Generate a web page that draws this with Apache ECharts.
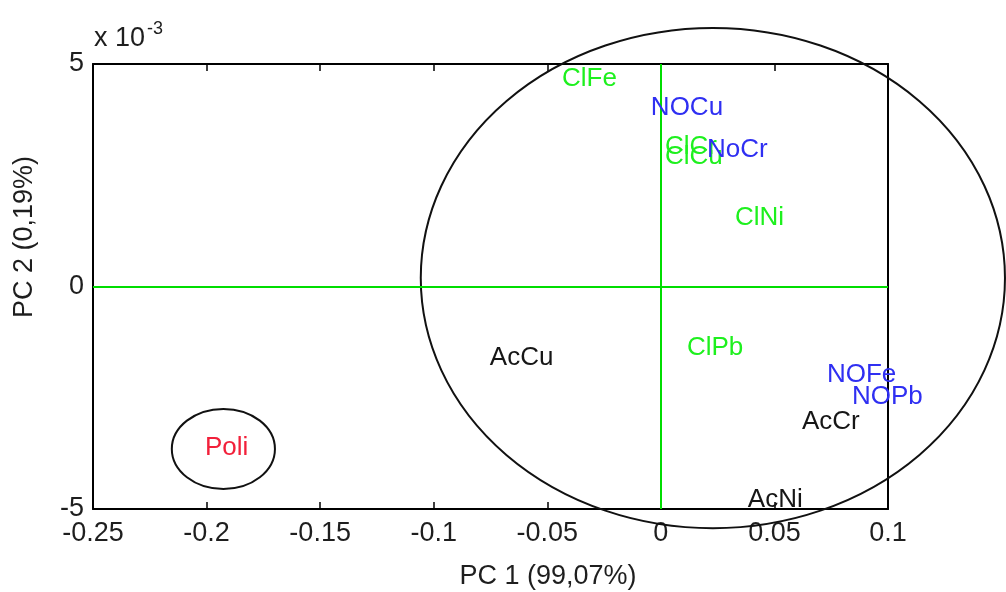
<!DOCTYPE html>
<html>
<head>
<meta charset="utf-8">
<script src="https://cdn.jsdelivr.net/npm/echarts@6/dist/echarts.min.js"></script>
<style>
  html, body { margin: 0; padding: 0; background: #fff; }
  #chart { width: 1006px; height: 592px; }
</style>
</head>
<body>
<div id="chart"></div>
<script>
// PCA scores: [PC1, PC2, label]
const clScores = [
  [-0.0435, 4.66e-3, 'ClFe'],
  [0.0018, 3.13e-3, 'ClCr'],
  [0.0018, 2.91e-3, 'ClCu'],
  [0.0326, 1.54e-3, 'ClNi'],
  [0.0115, -1.38e-3, 'ClPb']
];
const noScores = [
  [-0.0044, 4.01e-3, 'NOCu'],
  [0.0203, 3.07e-3, 'NoCr'],
  [0.0731, -1.99e-3, 'NOFe'],
  [0.0841, -2.48e-3, 'NOPb']
];
const acScores = [
  [-0.0753, -1.61e-3, 'AcCu'],
  [0.0621, -3.04e-3, 'AcCr'],
  [0.0383, -4.80e-3, 'AcNi']
];
const poliScores = [
  [-0.2007, -3.63e-3, 'Poli']
];

// Group ellipses: [centre PC1, centre PC2, radius PC1, radius PC2]
const groupEllipses = [
  [0.0229, 0.19e-3, 0.1286, 5.62e-3],
  [-0.1926, -3.65e-3, 0.0227, 0.899e-3]
];

// Axis ranges and ticks
const xMin = -0.25, xMax = 0.1, xStep = 0.05;
const yMin = -5e-3, yMax = 5e-3, yStep = 5e-3;

const FONT = '"Liberation Sans", Arial, sans-serif';
const AXIS_TEXT = '#1e1e1e';
const AXIS_SIZE = 27;

function labelSeries(name, data, color) {
  return {
    name: name,
    type: 'scatter',
    data: data,
    symbolSize: 0,
    silent: true,
    z: 5,
    itemStyle: { opacity: 1 },
    label: {
      show: true,
      position: 'right',
      distance: 0,
      opacity: 1,
      formatter: p => p.data[2],
      color: color,
      fontFamily: FONT,
      fontSize: 26
    }
  };
}

const chart = echarts.init(document.getElementById('chart'), null, { renderer: 'canvas' });

const axisLine = { show: true, onZero: false, lineStyle: { color: '#000', width: 2 } };
const axisTick = { show: true, inside: true, length: 7, lineStyle: { color: '#000', width: 1.5 } };

chart.setOption({
  animation: false,
  backgroundColor: '#fff',
  grid: { left: 93, right: 118, top: 64, bottom: 83, containLabel: false },
  xAxis: [
    {
      type: 'value', position: 'bottom', min: xMin, max: xMax, interval: xStep,
      axisLine: axisLine, axisTick: axisTick, splitLine: { show: false },
      axisLabel: { color: AXIS_TEXT, fontFamily: FONT, fontSize: AXIS_SIZE, margin: 11 }
    },
    {
      type: 'value', position: 'top', min: xMin, max: xMax, interval: xStep,
      axisLine: axisLine, axisTick: axisTick, splitLine: { show: false },
      axisLabel: { show: false }
    }
  ],
  yAxis: [
    {
      type: 'value', position: 'left', min: yMin, max: yMax, interval: yStep,
      axisLine: axisLine, axisTick: axisTick, splitLine: { show: false },
      axisLabel: {
        color: AXIS_TEXT, fontFamily: FONT, fontSize: AXIS_SIZE, margin: 9,
        formatter: v => String(Math.round(v * 1000))
      }
    },
    {
      type: 'value', position: 'right', min: yMin, max: yMax, interval: yStep,
      axisLine: axisLine, axisTick: axisTick, splitLine: { show: false },
      axisLabel: { show: false }
    }
  ],
  series: [
    {
      name: 'groups',
      type: 'custom',
      data: groupEllipses,
      encode: { x: 0, y: 1 },
      clip: false,
      silent: true,
      z: 3,
      renderItem: function (params, api) {
        const c = api.coord([api.value(0), api.value(1)]);
        const s = api.size([api.value(2), api.value(3)]);
        const rx = s[0], ry = s[1];
        const d = 'M' + (c[0] - rx) + ' ' + c[1] +
          ' A' + rx + ' ' + ry + ' 0 1 0 ' + (c[0] + rx) + ' ' + c[1] +
          ' A' + rx + ' ' + ry + ' 0 1 0 ' + (c[0] - rx) + ' ' + c[1] + ' Z';
        return {
          type: 'path',
          shape: { pathData: d },
          style: { fill: 'none', stroke: '#111', lineWidth: 2 }
        };
      }
    },
    Object.assign(labelSeries('Cl', clScores, '#1ef01e'), {
      markLine: {
        silent: true,
        symbol: 'none',
        label: { show: false },
        lineStyle: { color: '#00dd00', type: 'solid', width: 2, opacity: 1 },
        data: [{ xAxis: 0 }, { yAxis: 0 }]
      }
    }),
    labelSeries('NO', noScores, '#2f2ff2'),
    labelSeries('Ac', acScores, '#161616'),
    labelSeries('Poli', poliScores, '#f2203a')
  ],
  graphic: [
    {
      type: 'text', left: 94, top: 20,
      style: {
        text: '{b|x 10}{s|-3}',
        rich: {
          b: { fontFamily: FONT, fontSize: AXIS_SIZE, fill: AXIS_TEXT, verticalAlign: 'bottom' },
          s: { fontFamily: FONT, fontSize: 18, fill: AXIS_TEXT, verticalAlign: 'top', padding: [0, 0, 14, 2] }
        }
      }
    },
    {
      type: 'text', x: 548, y: 577,
      style: {
        text: 'PC 1 (99,07%)', fontFamily: FONT, fontSize: AXIS_SIZE, fill: AXIS_TEXT,
        align: 'center', verticalAlign: 'middle'
      }
    },
    {
      type: 'text', x: 25, y: 237, rotation: Math.PI / 2,
      style: {
        text: 'PC 2 (0,19%)', fontFamily: FONT, fontSize: AXIS_SIZE, fill: AXIS_TEXT,
        align: 'center', verticalAlign: 'middle'
      }
    }
  ]
});
</script>
</body>
</html>
